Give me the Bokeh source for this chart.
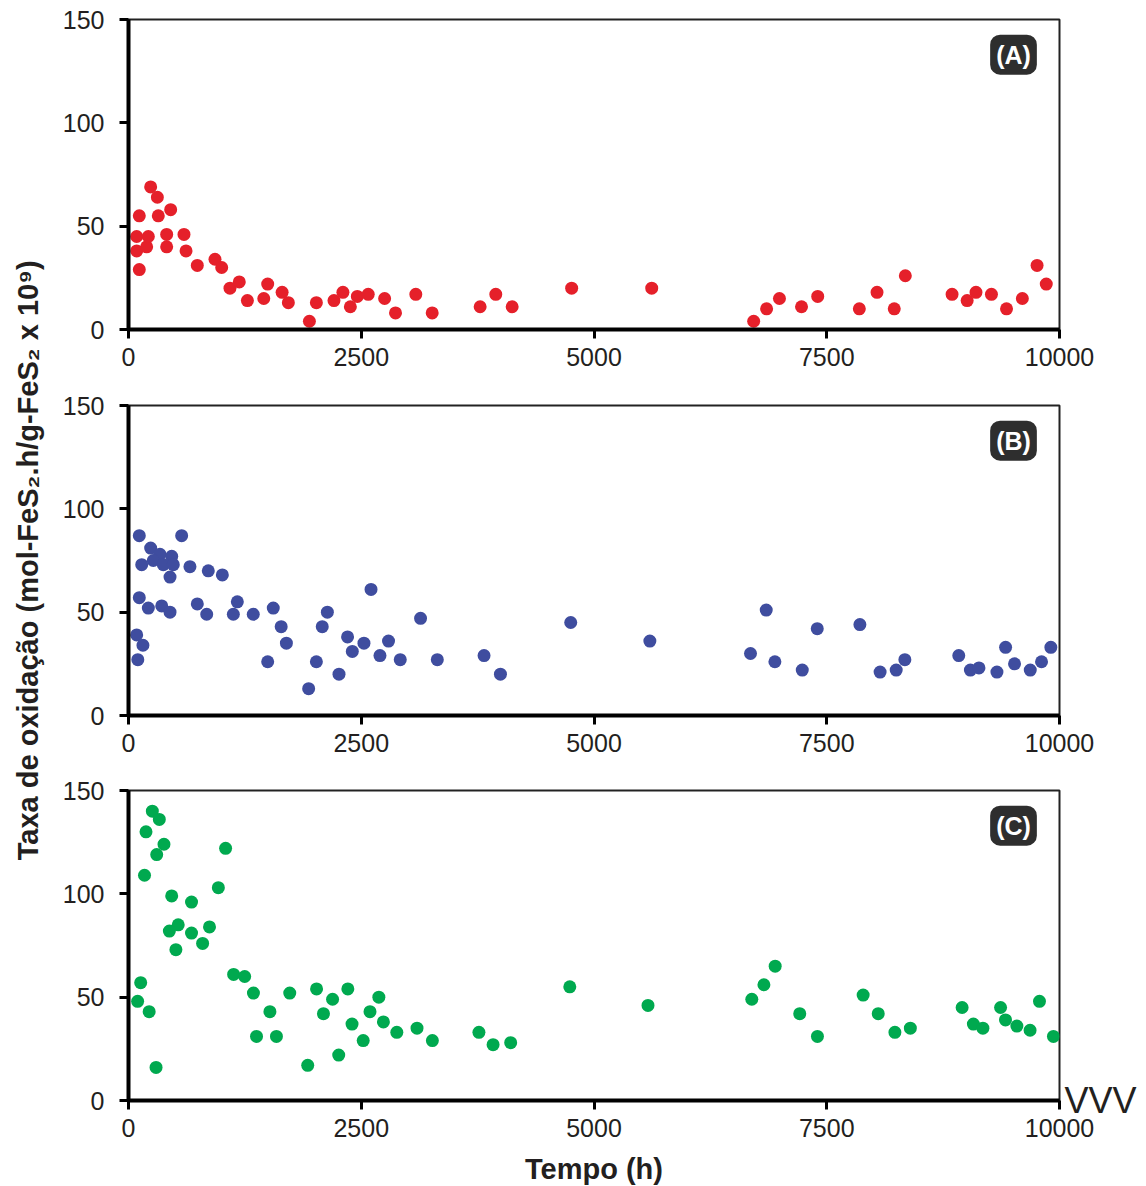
import math
from bokeh.plotting import figure
from bokeh.models import Range1d, FixedTicker, Label, ColumnDataSource, LinearAxis
from bokeh.layouts import row, column
from bokeh.embed import file_html
from bokeh.resources import INLINE

x_ticks = [0, 2500, 5000, 7500, 10000]
y_ticks = [0, 50, 100, 150]

a_time = [88, 88, 116, 116, 195, 213, 238, 310, 320, 410, 410, 453, 596, 618, 739, 929, 1001, 1090, 1190, 1277,
          1453, 1495, 1650, 1717, 1943, 2018, 2207, 2303, 2383, 2458, 2575, 2751, 2868, 3086, 3262, 3777, 3945, 4121,
          4760, 5620, 6715, 6854, 6992, 7229, 7403, 7850, 8040, 8225, 8344, 8846, 9008, 9103, 9269, 9431, 9601, 9759, 9858]
a_rate = [38, 45, 55, 29, 40, 45, 69, 64, 55, 46, 40, 58, 46, 38, 31, 34, 30, 20, 23, 14,
          15, 22, 18, 13, 4, 13, 14, 18, 11, 16, 17, 15, 8, 17, 8, 11, 17, 11,
          20, 20, 4, 10, 15, 11, 16, 10, 18, 10, 26, 17, 14, 18, 17, 10, 15, 31, 22]

b_time = [88, 155, 100, 116, 571, 238, 338, 464, 142, 266, 374, 481, 446, 660, 857, 1008, 116, 213, 357, 446,
          739, 840, 1126, 1169, 1340, 1555, 1640, 1696, 1495, 1935, 2018, 2081, 2136, 2261, 2353, 2404, 2529, 2605,
          2701, 2793, 2919, 3137, 3317, 3819, 3995, 4750, 5600, 6681, 6850, 6943, 7237, 7398, 7856, 8073, 8246,
          8339, 8918, 9043, 9135, 9328, 9421, 9517, 9686, 9807, 9907]
b_rate = [39, 34, 27, 87, 87, 81, 78, 77, 73, 75, 73, 73, 67, 72, 70, 68, 57, 52, 53, 50,
          54, 49, 49, 55, 49, 52, 43, 35, 26, 13, 26, 43, 50, 20, 38, 31, 35, 61,
          29, 36, 27, 47, 27, 29, 20, 45, 36, 30, 51, 26, 22, 42, 44, 21, 22,
          27, 29, 22, 23, 21, 33, 25, 22, 26, 33]

c_time = [98, 131, 222, 296, 172, 188, 256, 331, 303, 381, 464, 534, 439, 509, 677, 677, 796, 870, 965, 1043,
          1129, 1248, 1342, 1375, 1519, 1589, 1732, 1925, 2020, 2094, 2192, 2258, 2356, 2401, 2521, 2594, 2689,
          2738, 2882, 3099, 3264, 3764, 3916, 4105, 4740, 5580, 6695, 6825, 6946, 7210, 7400, 7891, 8053, 8232,
          8398, 8954, 9075, 9177, 9367, 9420, 9542, 9684, 9785, 9935]
c_rate = [48, 57, 43, 16, 109, 130, 140, 136, 119, 124, 99, 85, 82, 73, 96, 81, 76, 84, 103, 122,
          61, 60, 52, 31, 43, 31, 52, 17, 54, 42, 49, 22, 54, 37, 29, 43, 50,
          38, 33, 35, 29, 33, 27, 28, 55, 46, 49, 56, 65, 42, 31, 51, 42, 33,
          35, 45, 37, 35, 45, 39, 36, 34, 48, 31]

panel_tags = ["(A)", "(B)", "(C)"]
x_title = "Tempo (h)"
y_title = "Taxa de oxidação (mol-FeS₂.h/g-FeS₂ x 10⁹)"
corner_text = "VVV"

FONT = "Liberation Sans"
TXT = "#231f20"


def make_panel(tx, ty, color, tag, top, bottom, xlabel=None):
    p = figure(frame_width=931, frame_height=310, min_border_left=80, min_border_right=87,
               min_border_top=top, min_border_bottom=bottom,
               x_range=Range1d(0, 10000), y_range=Range1d(0, 150),
               output_backend="svg", toolbar_location=None, tools="")
    p.xgrid.visible = False
    p.ygrid.visible = False
    p.outline_line_color = "#222222"
    p.outline_line_width = 2
    p.background_fill_color = "white"
    p.border_fill_color = "white"
    for ax, ticks, so in ((p.xaxis, x_ticks, 9), (p.yaxis, y_ticks, 15)):
        ax.ticker = FixedTicker(ticks=ticks)
        ax.axis_line_width = 4
        ax.axis_line_color = "black"
        ax.major_tick_line_width = 3
        ax.major_tick_line_color = "black"
        ax.major_tick_out = 9
        ax.major_tick_in = 0
        ax.minor_tick_out = 0
        ax.minor_tick_in = 0
        ax.major_label_text_font = FONT
        ax.major_label_text_font_size = "25px"
        ax.major_label_text_color = TXT
        ax.major_label_standoff = so
    if xlabel:
        p.xaxis.axis_label = xlabel
        p.xaxis.axis_label_text_font = FONT
        p.xaxis.axis_label_text_font_style = "bold"
        p.xaxis.axis_label_text_font_size = "29px"
        p.xaxis.axis_label_text_color = TXT
        p.xaxis.axis_label_standoff = 13
    src = ColumnDataSource(dict(t=tx, r=ty))
    p.scatter("t", "r", source=src, size=13, fill_color=color, line_color=None)
    p.add_layout(Label(x=9506, y=133, text=tag, text_color="white", text_font=FONT,
                       text_font_style="bold", text_font_size="25px", text_align="center",
                       text_baseline="middle", background_fill_color="#1c1c1c",
                       background_fill_alpha=0.92, border_radius=10, padding=6))
    return p


pa = make_panel(a_time, a_rate, "#e5202a", panel_tags[0], 19, 56)
pb = make_panel(b_time, b_rate, "#3f4d9f", panel_tags[1], 20, 55)
pc = make_panel(c_time, c_rate, "#00a94f", panel_tags[2], 20, 86, xlabel=x_title)

# stray "VVV" text just right of panel C's lower-right corner, as a bare right-side axis label
vax = LinearAxis(ticker=FixedTicker(ticks=[0]), major_label_overrides={0: corner_text},
                 axis_line_color=None, major_tick_line_color=None, minor_tick_line_color=None,
                 major_tick_out=0, major_tick_in=0, minor_tick_out=0, minor_tick_in=0,
                 major_label_standoff=5, major_label_text_font=FONT,
                 major_label_text_font_size="36px", major_label_text_color=TXT)
pc.add_layout(vax, "right")

lp = figure(frame_width=48, frame_height=1186, x_range=Range1d(0, 1), y_range=Range1d(0, 1),
            min_border=0, x_axis_location=None, y_axis_location=None, title=None,
            output_backend="svg", toolbar_location=None, tools="")
lp.grid.visible = False
lp.outline_line_color = None
lp.add_layout(Label(x=27 / 48, y=0.528, text=y_title, angle=math.pi / 2, text_align="center",
                    text_baseline="middle", text_font=FONT, text_font_style="bold",
                    text_font_size="29px", text_color=TXT))

layout = row(lp, column(pa, pb, pc))
open("out.html", "w").write(file_html(layout, INLINE))
